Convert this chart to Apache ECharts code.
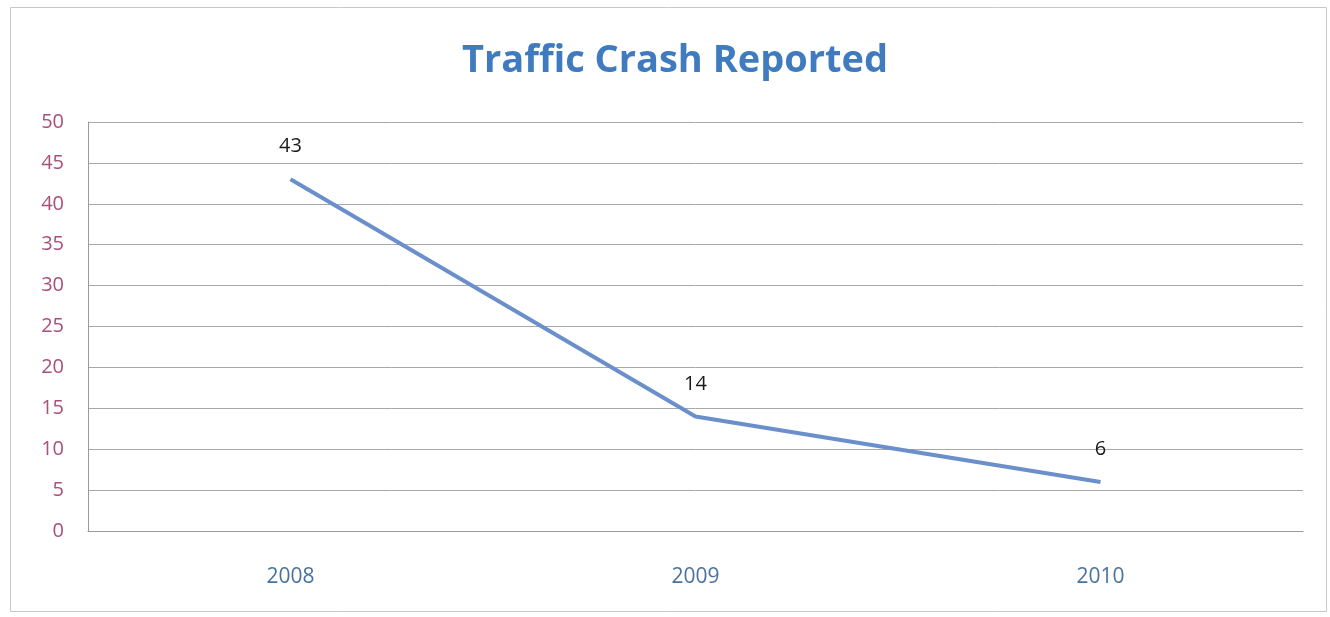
<!DOCTYPE html>
<html><head><meta charset="utf-8">
<script src="https://cdn.jsdelivr.net/npm/echarts@6/dist/echarts.min.js"></script>
<style>html,body{margin:0;padding:0;background:#fff}#c{width:1330px;height:617px}</style>
</head><body><div id="c"></div>
<script>
const categories = ['2008', '2009', '2010'];
const crashes = [43, 14, 6];
const yTicks = { min: 0, max: 50, interval: 5 };

const FONT = '"Open Sans", Lato, sans-serif';
const chart = echarts.init(document.getElementById('c'));
chart.setOption({
  backgroundColor: '#fff',
  animation: false,
  textStyle: { fontFamily: FONT },
  graphic: [{
    type: 'rect', left: 8, top: 5,
    shape: { width: 1316, height: 604 },
    style: { fill: 'none', stroke: '#c8c8c8', lineWidth: 1 }
  }],
  title: {
    text: 'Traffic Crash Reported',
    left: 670, textAlign: 'center', top: 37,
    textStyle: { color: '#3F7BBE', fontSize: 38, fontWeight: 'bold', fontFamily: FONT }
  },
  grid: { left: 88, right: 27, top: 122, bottom: 86 },
  xAxis: {
    type: 'category', data: categories, boundaryGap: true,
    axisLine: { show: true, lineStyle: { color: '#9a9a9a' } },
    axisTick: { show: false },
    axisLabel: { color: '#4A72A0', fontSize: 21, margin: 36 },
    splitLine: { show: false }
  },
  yAxis: {
    type: 'value', min: yTicks.min, max: yTicks.max, interval: yTicks.interval,
    axisLine: { show: true, lineStyle: { color: '#9a9a9a' } },
    axisTick: { show: false },
    axisLabel: { color: '#A8507C', fontSize: 20, margin: 24 },
    splitLine: { show: true, lineStyle: { color: '#a8a8a8', width: 1 } }
  },
  series: [{
    type: 'line', data: crashes,
    symbol: 'circle', symbolSize: 1, showSymbol: true,
    itemStyle: { color: '#6A8FCB', opacity: 0 },
    lineStyle: { color: '#6A8FCB', width: 4 },
    label: { show: true, position: 'top', distance: 22, color: '#1a1a1a', fontSize: 20, opacity: 1 }
  }]
});
</script></body></html>
